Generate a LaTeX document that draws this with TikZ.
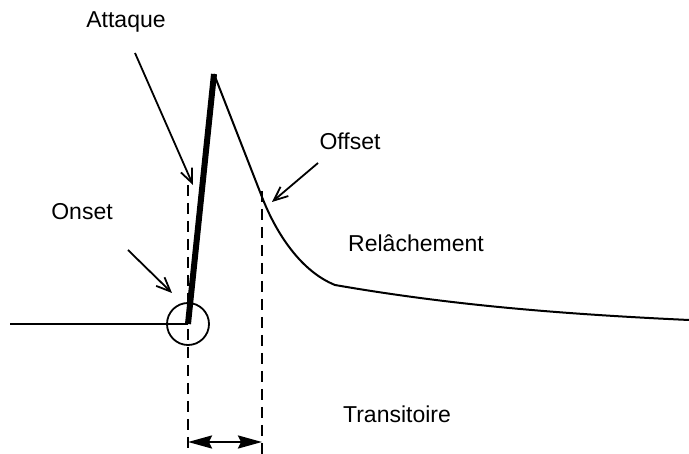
\documentclass[tikz,border=0pt]{standalone}
\usepackage{fontspec}
\setmainfont{Liberation Sans}
\usetikzlibrary{arrows.meta}

\begin{document}
\begin{tikzpicture}[x=1pt,y=-1pt,>={Straight Barb[length=14pt,width=12pt]},
		lbl/.style={anchor=base,inner sep=0pt,font=\fontsize{23}{27}\selectfont},
		courbe/.style={line width=2pt,line join=round},
		repere/.style={line width=2.2pt,dash pattern=on 11pt off 7pt},
		fleche/.style={->,line width=1.8pt}]
		\useasboundingbox (0,0) rectangle (689,454);
		% points of the envelope
		\coordinate (debut) at (10,324);
		\coordinate (onset) at (188,324);
		\coordinate (pic) at (214,74);
		\coordinate (offset) at (262,197);
		\coordinate (coude) at (335,285);
		\coordinate (fin) at (689,320);
		% labels
		\node[lbl] (attaque) at (126,28) {Attaque};
		\node[lbl] (onsetlbl) at (82,220) {Onset};
		\node[lbl] (offsetlbl) at (350,150) {Offset};
		\node[lbl] (relache) at (416,252) {Relâchement};
		\node[lbl] (transit) at (397,423) {Transitoire};
		% envelope
		\draw[courbe] (debut) -- (onset);
		\draw[line width=6pt] (onset) -- (pic);
		\draw[courbe] (pic) -- (offset) .. controls (274,228) and (298,270) .. (coude)
			.. controls (450,305) and (560,314) .. (fin);
		\node[draw,circle,line width=1.8pt,minimum size=42pt,inner sep=0pt] (cercle) at (onset) {};
		% dashed marks
		\coordinate (g1) at (188,185); \coordinate (g2) at (188,454);
		\coordinate (d1) at (262,191); \coordinate (d2) at (262,454);
		\draw[repere] (g1) -- (g2);
		\draw[repere] (d1) -- (d2);
		\coordinate (tg) at (188,442); \coordinate (td) at (262,442);
		\draw[line width=2.4pt,{Stealth[length=24pt,width=13pt,inset=3pt]}-{Stealth[length=24pt,width=13pt,inset=3pt]}] (tg) -- (td);
		% pointers
		\coordinate (a1) at (135,53); \coordinate (a2) at (193,185);
		\coordinate (o1) at (128,250); \coordinate (o2) at (172,293);
		\coordinate (f1) at (318,163); \coordinate (f2) at (272,202);
		\draw[fleche] (a1) -- (a2);
		\draw[fleche] (o1) -- (o2);
		\draw[fleche] (f1) -- (f2);
	\end{tikzpicture}
\end{document}
